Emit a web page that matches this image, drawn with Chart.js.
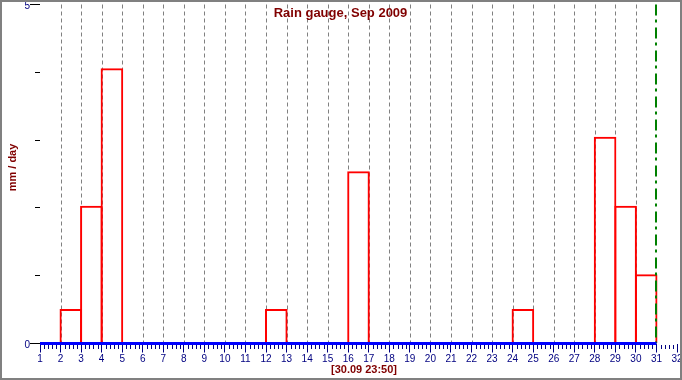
<!DOCTYPE html>
<html><head><meta charset="utf-8">
<script src="https://cdn.jsdelivr.net/npm/chart.js@4"></script>
<style>html,body{margin:0;padding:0;background:#fff;}canvas{display:block;}</style>
</head><body>
<canvas id="c" width="682" height="380"></canvas>
<script>
// ---- data ----
const days = [1,2,3,4,5,6,7,8,9,10,11,12,13,14,15,16,17,18,19,20,21,22,23,24,25,26,27,28,29,30];
const rain = [0,0.51,2.03,4.06,0,0,0,0,0,0,0,0.51,0,0,0,2.54,0,0,0,0,0,0,0,0.51,0,0,0,3.05,2.03,1.02];
const xRange = [1, 32];
const yRange = [0, 5];
const yLabels = [0, 5];
const gridDays = [2,3,4,5,6,7,8,9,10,11,12,13,14,15,16,17,18,19,20,21,22,23,24,25,26,27,28,29,30];
const markerDay = 31;
const titleText = 'Rain gauge, Sep 2009';
const yTitle = 'mm / day';
const stampText = '[30.09 23:50]';

const tickFont = "'Liberation Sans Narrow', 'Liberation Sans', Arial, sans-serif";
const boldFont = "'Liberation Sans', Arial, sans-serif";

const decor = {
  id: 'decor',
  beforeDatasetsDraw(chart) {
    const {ctx, chartArea: a, scales: {x, y}} = chart;
    ctx.save();
    ctx.lineWidth = 1;
    ctx.strokeStyle = '#808080';
    ctx.setLineDash([4, 3]);
    for (const d of gridDays) {
      const px = Math.round(x.getPixelForValue(d)) + 0.5;
      ctx.beginPath(); ctx.moveTo(px, a.top); ctx.lineTo(px, a.bottom); ctx.stroke();
    }
    ctx.restore();
  },
  afterDatasetsDraw(chart) {
    const {ctx, chartArea: a, scales: {x, y}} = chart;
    ctx.save();
    // current-time marker
    ctx.strokeStyle = '#008000';
    ctx.lineWidth = 2;
    ctx.setLineDash([11, 4, 3, 5]);
    const mx = Math.round(x.getPixelForValue(markerDay));
    ctx.beginPath(); ctx.moveTo(mx, a.top); ctx.lineTo(mx, a.bottom); ctx.stroke();
    ctx.setLineDash([]);
    // baseline
    const y0 = y.getPixelForValue(0);
    ctx.strokeStyle = '#0000ff';
    ctx.lineWidth = 3;
    ctx.beginPath();
    ctx.moveTo(x.getPixelForValue(days[0]), y0);
    ctx.lineTo(x.getPixelForValue(markerDay), y0);
    ctx.stroke();
    // minor x ticks
    ctx.strokeStyle = '#000080';
    ctx.lineWidth = 1;
    for (let i = xRange[0] * 5; i <= xRange[1] * 5; i++) {
      if (i % 5 === 0) continue;
      const px = Math.round(x.getPixelForValue(i / 5)) + 0.5;
      ctx.beginPath(); ctx.moveTo(px, y0 + 1.5); ctx.lineTo(px, y0 + 5.5); ctx.stroke();
    }
    // short y ticks
    ctx.strokeStyle = '#000000';
    for (let v = yRange[0] + 1; v < yRange[1]; v++) {
      const py = Math.round(y.getPixelForValue(v) - 0.5) + 0.5;
      ctx.beginPath(); ctx.moveTo(a.left - 5, py); ctx.lineTo(a.left, py); ctx.stroke();
    }
    ctx.restore();
  },
  afterDraw(chart) {
    const {ctx, chartArea: a, scales: {y}} = chart;
    ctx.save();
    // y labels
    ctx.fillStyle = '#000080';
    ctx.font = "10px " + tickFont;
    ctx.textAlign = 'right';
    ctx.textBaseline = 'alphabetic';
    for (const v of yLabels) {
      ctx.fillText(String(v), a.left - 10, y.getPixelForValue(v) + 4);
    }
    ctx.fillStyle = '#800000';
    ctx.font = "bold 13px " + boldFont;
    ctx.textAlign = 'center';
    ctx.textBaseline = 'alphabetic';
    ctx.fillText(titleText, 340.5, 17);
    ctx.font = "bold 11px " + boldFont;
    ctx.textBaseline = 'middle';
    ctx.fillText(stampText, 364, 370);
    ctx.save();
    ctx.translate(12.5, 167.5);
    ctx.rotate(-Math.PI / 2);
    ctx.fillText(yTitle, 0, 0);
    ctx.restore();
    // frame
    ctx.strokeStyle = '#808080';
    ctx.lineWidth = 2;
    ctx.strokeRect(1, 1, 680, 378);
    ctx.restore();
  }
};

new Chart(document.getElementById('c'), {
  type: 'bar',
  data: {
    datasets: [{
      data: days.map((d, i) => ({x: d + 0.5, y: rain[i]})),
      borderColor: '#ff0000',
      backgroundColor: 'rgba(0,0,0,0)',
      borderWidth: 2,
      borderSkipped: 'bottom',
      barPercentage: 1.1,
      categoryPercentage: 1
    }]
  },
  options: {
    responsive: false,
    animation: false,
    devicePixelRatio: 1,
    layout: {padding: {top: 4.5, right: 5, bottom: 0, left: 0}},
    plugins: {legend: {display: false}, tooltip: {enabled: false}, title: {display: false}},
    scales: {
      x: {
        type: 'linear', min: xRange[0], max: xRange[1], offset: false,
        grid: {offset: false, drawOnChartArea: false, drawTicks: true, tickLength: 9, tickColor: '#000080', lineWidth: 1},
        border: {display: false},
        ticks: {stepSize: 1, autoSkip: false, maxRotation: 0, minRotation: 0, padding: 1, color: '#000080',
                font: {family: tickFont, size: 10}, callback: v => String(v)},
        afterFit: s => { s.height = 36.5; s.paddingLeft = 0; s.paddingRight = 0; }
      },
      y: {
        min: yRange[0], max: yRange[1],
        grid: {drawOnChartArea: false, drawTicks: true, tickLength: 10,
               tickColor: c => (c.tick && yLabels.includes(c.tick.value)) ? '#000000' : 'rgba(0,0,0,0)'},
        border: {display: false},
        ticks: {stepSize: 1, padding: 0, display: true, color: 'rgba(0,0,0,0)', font: {family: tickFont, size: 10},
                callback: v => ''},
        afterFit: s => { s.width = 40; s.paddingTop = 0; s.paddingBottom = 0; }
      }
    }
  },
  plugins: [decor]
});
</script>
</body></html>
